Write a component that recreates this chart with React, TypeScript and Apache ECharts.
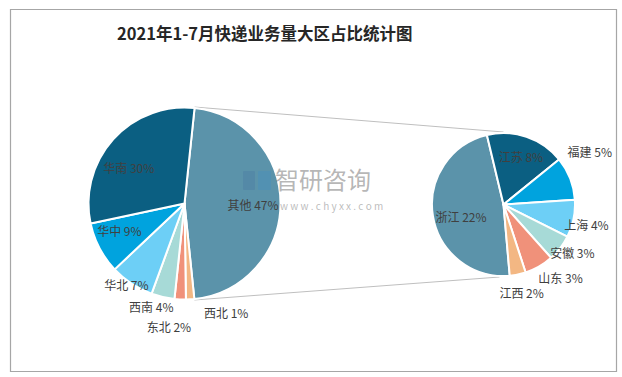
import React, { useEffect, useRef } from "react";
import * as echarts from "echarts";

// ---- data ----
const mainNames = ["其他", "西北", "东北", "西南", "华北", "华中", "华南"];
const mainValues = [46.7, 1.4, 1.9, 3.9, 7.4, 8.7, 30.0];

const subNames = ["浙江", "江苏", "福建", "上海", "安徽", "山东", "江西"];
const subValues = [22.4, 8.4, 4.6, 4.0, 2.8, 3.1, 1.7];

// ---- styles ----
const mainColors = ["#5B93AA", "#F3B783", "#F0917A", "#A7DAD7", "#6DCFF6", "#00A3DE", "#0B5F82"];
const subColors = ["#5B93AA", "#0B5F82", "#00A3DE", "#6DCFF6", "#A7DAD7", "#F0917A", "#F3B783"];

// label nudges (dx, dy) from the pie's inside label anchor
const mainLabelShift = [[17.5, 0.5], [38.7, 57.6], [-13.3, 72.5], [-21.7, 53.7], [-30.1, 38.4], [-20, 3.2], [-17.8, -1.4]];
const subLabelShift = [[-4.2, 5.8], [5, -11.6], [50.2, -38.4], [45, 12.4], [38.1, 24.7], [37.7, 39.5], [10.4, 50.5]];

const LEFT = { cx: 184.5, cy: 203.5, r: 96, start: 84 };
const RIGHT = { cx: 503.5, cy: 204.5, r: 71.5, start: -85 };

const FONT = '"Noto Sans CJK SC", "Noto Sans", sans-serif';

export default function App() {
  const ref = useRef<HTMLDivElement>(null);
  useEffect(() => {
    if (!ref.current) return;
    const chart = echarts.init(ref.current, undefined, { renderer: "svg" });

    const total = mainValues.reduce((a, b) => a + b, 0);
    const otherAngle = (mainValues[0] / total) * 360;
    const th0 = ((90 - LEFT.start) * Math.PI) / 180;
    const th1 = ((90 - LEFT.start + otherAngle) * Math.PI) / 180;
    const rimR = LEFT.r + 1;
    const topL = [LEFT.cx + rimR * Math.sin(th0), LEFT.cy - rimR * Math.cos(th0)];
    const botL = [LEFT.cx + rimR * Math.sin(th1), LEFT.cy - rimR * Math.cos(th1)];
    const topR = [RIGHT.cx, RIGHT.cy - RIGHT.r - 1];
    const botR = [RIGHT.cx - 4, RIGHT.cy + RIGHT.r + 1];

    const labelStyle = {
      show: true,
      position: "inside",
      rotate: 0,
      color: "#404040",
      fontSize: 12,
      fontFamily: FONT,
      formatter: (p: any) => `${p.name} ${Math.round(p.value)}%`,
    };

    chart.setOption({
      animation: false,
      backgroundColor: "#ffffff",
      title: {
        text: "2021年1-7月快递业务量大区占比统计图",
        left: 117,
        top: 24,
        padding: 0,
        textStyle: { fontSize: 16.5, fontWeight: "bold", color: "#262626", fontFamily: FONT, lineHeight: 18 },
      },
      graphic: [
        {
          type: "rect",
          shape: { x: 10.5, y: 9.5, width: 606, height: 362 },
          style: { fill: "none", stroke: "#A6A6A6", lineWidth: 1.2 },
          z: -1,
        },
        {
          type: "line",
          shape: { x1: topL[0], y1: topL[1], x2: topR[0], y2: topR[1] },
          style: { stroke: "#BFBFBF", lineWidth: 1 },
          z: -1,
        },
        {
          type: "line",
          shape: { x1: botL[0], y1: botL[1], x2: botR[0], y2: botR[1] },
          style: { stroke: "#BFBFBF", lineWidth: 1 },
          z: -1,
        },
        { type: "rect", z: 100, shape: { x: 243, y: 171, width: 12, height: 19, r: 1 }, style: { fill: "rgba(70,110,160,0.28)" } },
        { type: "rect", z: 100, shape: { x: 258, y: 171, width: 13, height: 19, r: 1 }, style: { fill: "rgba(60,140,200,0.28)" } },
        {
          type: "text",
          z: 100,
          x: 275,
          y: 178,
          style: { text: "智研咨询", fontSize: 24, fontFamily: FONT, fill: "rgba(120,120,120,0.55)", verticalAlign: "middle" },
        },
        {
          type: "text",
          z: 100,
          x: 280,
          y: 205,
          style: { text: "w w w . c h y x x . c o m", fontSize: 10, fontFamily: FONT, fill: "rgba(120,120,120,0.5)", align: "left", verticalAlign: "middle" },
        },
      ],
      series: [
        {
          type: "pie",
          center: [LEFT.cx, LEFT.cy],
          radius: [0, LEFT.r],
          startAngle: LEFT.start,
          clockwise: true,
          avoidLabelOverlap: false,
          silent: true,
          label: labelStyle,
          labelLine: { show: false },
          itemStyle: { borderColor: "#ffffff", borderWidth: 2 },
          emphasis: { disabled: true },
          labelLayout: (p: any) => ({ dx: mainLabelShift[p.dataIndex][0], dy: mainLabelShift[p.dataIndex][1] }),
          data: mainNames.map((n, i) => ({ name: n, value: mainValues[i], itemStyle: { color: mainColors[i] } })),
        },
        {
          type: "pie",
          center: [RIGHT.cx, RIGHT.cy],
          radius: [0, RIGHT.r],
          startAngle: RIGHT.start,
          clockwise: true,
          avoidLabelOverlap: false,
          silent: true,
          label: labelStyle,
          labelLine: { show: false },
          itemStyle: { borderColor: "#ffffff", borderWidth: 2 },
          emphasis: { disabled: true },
          labelLayout: (p: any) => ({ dx: subLabelShift[p.dataIndex][0], dy: subLabelShift[p.dataIndex][1] }),
          data: subNames.map((n, i) => ({ name: n, value: subValues[i], itemStyle: { color: subColors[i] } })),
        },
      ],
    });
    return () => chart.dispose();
  }, []);
  return <div ref={ref} style={{ position: "fixed", left: 0, top: 0, width: 622, height: 377 }} />;
}
